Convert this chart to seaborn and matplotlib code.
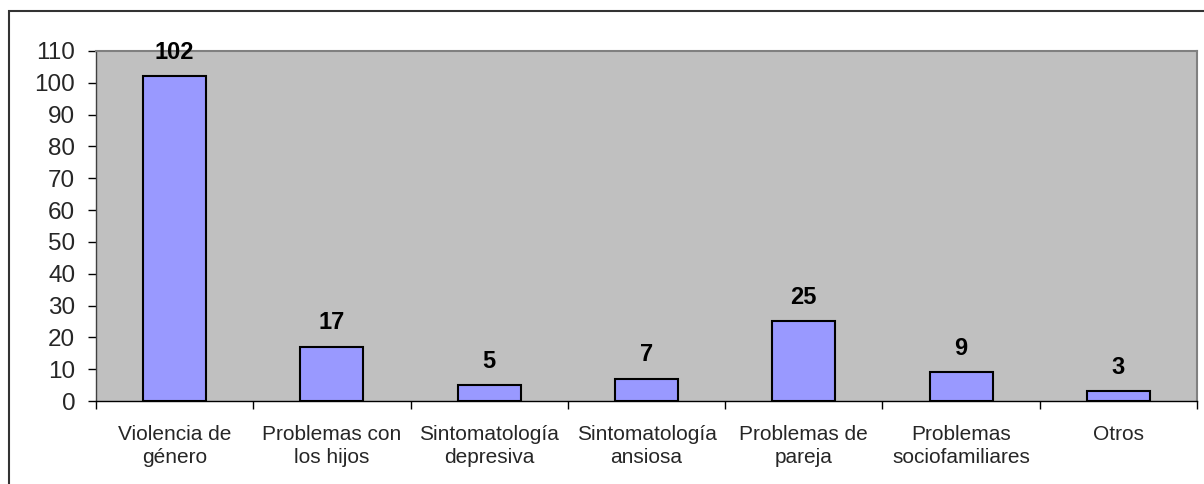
import numpy as np
import pandas as pd
import matplotlib
matplotlib.use("Agg")
import matplotlib.pyplot as plt
import seaborn as sns
from matplotlib.patches import Rectangle

# data
categories = ["Violencia de\ngénero", "Problemas con\nlos hijos", "Sintomatología\ndepresiva",
              "Sintomatología\nansiosa", "Problemas de\npareja", "Problemas\nsociofamiliares", "Otros"]
counts = [102, 17, 5, 7, 25, 9, 3]
y_ticks = list(range(0, 111, 10))

df = pd.DataFrame({"categoria": categories, "n": counts})

sns.set_theme(style="white")
plt.rcParams["font.family"] = ["Liberation Sans", "DejaVu Sans"]

fig = plt.figure(figsize=(12.04, 4.84), dpi=100)
ax = fig.add_axes([96 / 1204, 1 - 401 / 484, (1197 - 96) / 1204, (401 - 51) / 484])

sns.barplot(data=df, x="categoria", y="n", color="#9999FF", width=0.4,
            edgecolor="black", linewidth=1.5, saturation=1, ax=ax)
ax.set_facecolor("#C0C0C0")

for i, v in enumerate(counts):
    ax.annotate(str(v), (i, v), xytext=(0, 9), textcoords="offset points",
                ha="center", va="bottom", fontsize=17, fontweight="bold", color="black")

ax.set_xlim(-0.5, len(categories) - 0.5)
ax.set_ylim(0, 110)
ax.set_yticks(y_ticks)
ax.set_xlabel("")
ax.set_ylabel("")

# category boundary ticks on x axis
ax.set_xticks(np.arange(-0.5, len(categories), 1.0), minor=True)
ax.tick_params(axis="x", which="major", length=0, pad=17, labelsize=15)
ax.tick_params(axis="x", which="minor", length=6, width=1, color="black", direction="out", bottom=True)
ax.tick_params(axis="y", which="major", length=6, width=1, color="black", direction="out",
               left=True, labelsize=17.5, pad=9)
for lab in ax.get_xticklabels():
    lab.set_linespacing(1.3)

for side in ["top", "right"]:
    ax.spines[side].set_color("#808080")
    ax.spines[side].set_linewidth(1.5)
ax.spines["left"].set_color("#404040")
ax.spines["bottom"].set_color("black")
ax.spines["left"].set_linewidth(1)
ax.spines["bottom"].set_linewidth(1)

# outer chart-area border
fig.patches.append(Rectangle((9 / 1204, -0.05), 1.1, 1 - 11 / 484 + 0.05, transform=fig.transFigure,
                             fill=False, edgecolor="#333333", linewidth=1.5))

fig.savefig("out.png", dpi=100)
